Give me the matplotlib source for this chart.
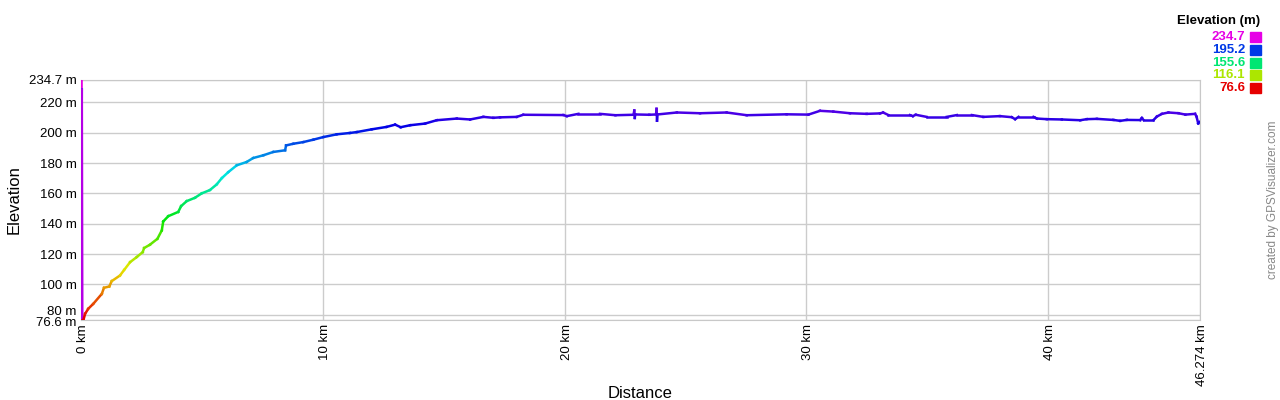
import matplotlib
matplotlib.use("Agg")
import matplotlib.pyplot as plt
from matplotlib.collections import LineCollection
from matplotlib.colors import hsv_to_rgb
from matplotlib.transforms import ScaledTranslation
import numpy as np

# ---- profile ----
dist_km = [0.0, 0.0, 0.0, 0.0, 0.01, 0.03,
           0.10, 0.17, 0.30, 0.51, 0.86, 0.95, 1.17, 1.27, 1.61, 1.79, 2.03, 2.30, 2.55, 2.61,
           2.85, 3.16, 3.34, 3.40, 3.61, 4.02, 4.14, 4.37, 4.71, 4.99, 5.33, 5.61, 5.82, 6.09,
           6.44, 6.85, 7.12, 7.54, 7.95, 8.44, 8.48, 8.78, 9.19, 9.61, 10.02, 10.57, 11.12, 11.40,
           12.02, 12.64, 12.99, 13.22, 13.61, 14.23, 14.71, 15.54, 16.09, 16.64, 17.05, 17.33,
           18.02, 18.29, 19.95, 20.09, 20.57, 21.46, 22.10, 22.85, 22.88, 22.90, 22.92, 23.50,
           23.78, 23.80, 23.82, 23.84, 24.64, 25.60, 26.70, 27.53, 29.18, 30.08, 30.56, 31.11,
           31.80, 32.49, 33.04, 33.17, 33.39, 34.28, 34.40, 34.52, 34.97, 35.80, 36.22, 36.84,
           37.31, 38.00, 38.49, 38.63, 38.77, 39.39, 39.53, 39.94, 40.56, 41.32, 41.59, 42.01,
           42.69, 42.97, 43.25, 43.80, 43.87, 43.94, 44.35, 44.49, 44.70, 44.97, 45.39, 45.67,
           46.07, 46.13, 46.20, 46.274]
elev_m = [234.7, 228.0, 214.0, 192.0, 228.0, 76.6,
          76.6, 80.7, 84.0, 87.3, 93.8, 97.8, 98.7, 102.2, 105.9, 109.7, 114.7, 118.0, 121.3, 124.0,
          126.2, 130.1, 135.6, 141.5, 145.0, 147.8, 151.6, 154.9, 157.1, 160.0, 162.2, 165.9, 170.0, 174.0,
          178.5, 180.7, 183.3, 185.1, 187.3, 188.4, 191.6, 192.7, 193.8, 195.4, 197.1, 198.9, 199.8, 200.4,
          202.2, 203.8, 205.3, 203.6, 204.9, 206.0, 208.2, 209.3, 208.7, 210.4, 209.8, 210.1,
          210.4, 211.8, 211.6, 210.9, 212.4, 212.4, 211.5, 211.8, 214.6, 209.7, 212.0, 211.8,
          212.0, 215.7, 207.9, 212.0, 213.3, 212.8, 213.3, 211.5, 212.1, 211.9, 214.4, 213.9,
          212.8, 212.4, 212.7, 213.3, 211.6, 211.6, 210.9, 211.8, 210.4, 210.4, 211.6, 211.6,
          210.4, 210.9, 210.2, 208.9, 210.4, 210.4, 209.3, 208.9, 208.7, 208.2, 208.9, 209.1,
          208.4, 207.8, 208.4, 208.3, 209.7, 208.3, 208.3, 210.6, 212.4, 213.3, 212.8, 211.9,
          212.4, 210.6, 206.1, 207.2]

emin, emax = 76.6, 234.7
total_km = 46.274
ytick_vals = [76.6, 80, 100, 120, 140, 160, 180, 200, 220, 234.7]
xtick_vals = [0, 10, 20, 30, 40, total_km]
legend_vals = [234.7, 195.2, 155.6, 116.1, 76.6]


def elev_color(e):
    # red -> magenta along the hue wheel
    f = (e - emin) / (emax - emin)
    return hsv_to_rgb([f * 300 / 360, 1.0, 0.9])


fig = plt.figure(figsize=(12.8, 4), dpi=100)
ax = fig.add_axes([81 / 1280, 0.2, (1200 - 81) / 1280, 0.6])

pts = np.column_stack([dist_km, elev_m])
segs = np.stack([pts[:-1], pts[1:]], axis=1)
cols = [elev_color(e) for e in elev_m[:-1]]
lw = [2.6 if i < 5 else 1.8 for i in range(len(segs))]
lc = LineCollection(segs, colors=cols, linewidths=lw, capstyle="projecting", zorder=3)
ax.add_collection(lc)

ax.set_xlim(0, total_km)
ax.set_ylim(emin, emax)
ax.set_yticks(ytick_vals)
ax.set_yticklabels([f"{v:g} m" for v in ytick_vals], fontsize=9.5, family="Liberation Sans")
ax.set_xticks(xtick_vals)
ax.set_xticklabels([f"{v:g} km" for v in xtick_vals], rotation=90, fontsize=9.5,
                   family="Liberation Sans", ha="center", va="top")
ax.tick_params(length=0, pad=3)
ax.grid(True, color="#cccccc", linewidth=1)
ax.set_axisbelow(True)
for s in ax.spines.values():
    s.set_color("#c8c8c8")

# the two bottom labels sit close together, nudge them apart
ylabs = ax.get_yticklabels()
ylabs[0].set_transform(ylabs[0].get_transform() + ScaledTranslation(0, -1 / 100, fig.dpi_scale_trans))
ylabs[1].set_transform(ylabs[1].get_transform() + ScaledTranslation(0, 4 / 100, fig.dpi_scale_trans))
for lab in ax.get_xticklabels():
    lab.set_transform(lab.get_transform() + ScaledTranslation(2 / 100, 0, fig.dpi_scale_trans))

ax.set_xlabel("Distance", fontsize=12, family="Liberation Sans")
ax.xaxis.set_label_coords(0.5, (320 - 386) / 240)
ax.set_ylabel("Elevation", fontsize=12, family="Liberation Sans")
ax.yaxis.set_label_coords((22 - 81) / 1119, 0.5)

# legend in the top right corner
fig.text(1260 / 1280, 1 - 21 / 400, "Elevation (m)", ha="right", va="center",
         fontsize=9.5, fontweight="bold", family="Liberation Sans")
for i, v in enumerate(legend_vals):
    y = 1 - (37 + i * 12.8) / 400
    c = elev_color(v)
    fig.text(1245 / 1280, y, f"{v:g}", ha="right", va="center", color=c,
             fontsize=9.5, fontweight="bold", family="Liberation Sans")
    fig.patches.append(plt.Rectangle((1250 / 1280, y - 5 / 400), 11 / 1280, 10 / 400,
                                     transform=fig.transFigure, color=c, figure=fig))

fig.text(1273 / 1280, 0.5, "created by GPSVisualizer.com", rotation=90, ha="center",
         va="center", color="#888888", fontsize=8.5, family="Liberation Sans")

fig.savefig("out.png", dpi=100)
